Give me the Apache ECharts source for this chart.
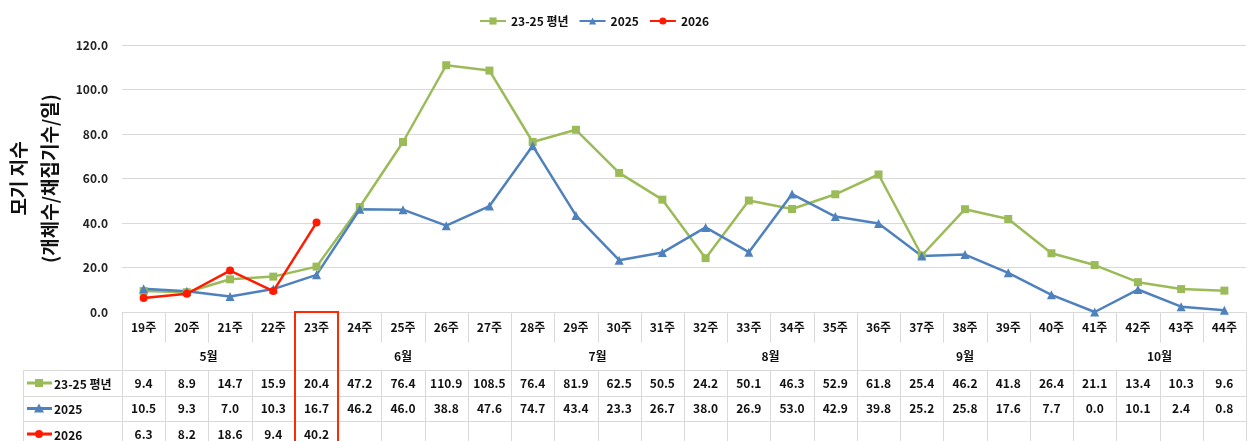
<!DOCTYPE html>
<html>
<head>
    <meta charset="utf-8">
    <title>모기 지수</title>
    <script src="https://cdn.jsdelivr.net/npm/echarts@6.0.0/dist/echarts.min.js"></script>
    <style>
        body { margin: 0; padding: 0; background: #fff; }
        #chart { width: 1251px; height: 441px; }
    </style>
</head>
<body>
    <div id="chart"></div>
    <script>
        // 데이터
        var weeks = ['19주', '20주', '21주', '22주', '23주', '24주', '25주', '26주', '27주', '28주', '29주', '30주', '31주',
            '32주', '33주', '34주', '35주', '36주', '37주', '38주', '39주', '40주', '41주', '42주', '43주', '44주'];
        var months = ['5월', '6월', '7월', '8월', '9월', '10월'];
        var monthSpans = [4, 5, 4, 4, 5, 4];
        var avg = [9.4, 8.9, 14.7, 15.9, 20.4, 47.2, 76.4, 110.9, 108.5, 76.4, 81.9, 62.5, 50.5,
            24.2, 50.1, 46.3, 52.9, 61.8, 25.4, 46.2, 41.8, 26.4, 21.1, 13.4, 10.3, 9.6];
        var y2025 = [10.5, 9.3, 7.0, 10.3, 16.7, 46.2, 46.0, 38.8, 47.6, 74.7, 43.4, 23.3, 26.7,
            38.0, 26.9, 53.0, 42.9, 39.8, 25.2, 25.8, 17.6, 7.7, 0.0, 10.1, 2.4, 0.8];
        var y2026 = [6.3, 8.2, 18.6, 9.4, 40.2];
        var currentWeek = 4; // 23주

        var seriesDefs = [
            { name: '23-25 평년', data: avg, color: '#9BBB59', symbol: 'rect' },
            { name: '2025', data: y2025, color: '#4F81BD', symbol: 'triangle' },
            { name: '2026', data: y2026, color: '#FF1A00', symbol: 'circle' }
        ];

        var FONT = '"Noto Sans CJK KR", "Noto Sans", sans-serif';

        // 표 배치
        var plotLeft = 122, plotRight = 5, tableLeft = 23;
        var colW = (1251 - plotLeft - plotRight) / weeks.length;
        var tableXMin = -0.5 - (plotLeft - tableLeft) / colW;
        var rowEdges = [0, 30, 58, 84, 109, 135];

        var cells = [];
        weeks.forEach(function (w, i) {
            cells.push({ x0: i - 0.5, x1: i + 0.5, r: 0, text: w, top: true });
        });
        var start = 0;
        months.forEach(function (m, k) {
            cells.push({ x0: start - 0.5, x1: start + monthSpans[k] - 0.5, r: 1, text: m, top: false });
            start += monthSpans[k];
        });
        seriesDefs.forEach(function (s, k) {
            var r = 2 + k;
            cells.push({ x0: tableXMin, x1: -0.5, r: r, header: s, top: true });
            weeks.forEach(function (w, i) {
                cells.push({ x0: i - 0.5, x1: i + 0.5, r: r, top: true,
                    text: i < s.data.length ? s.data[i].toFixed(1) : '' });
            });
        });
        cells.push({ x0: currentWeek - 0.5, x1: currentWeek + 0.5, r: 0, r1: 5, box: true });

        var cellData = cells.map(function (c) {
            return [c.x0, rowEdges[c.r], c.x1, rowEdges[c.r1 !== undefined ? c.r1 : c.r + 1]];
        });

        function px(v) { return Math.round(v) + 0.5; }

        function renderCell(params, api) {
            var c = cells[params.dataIndex];
            var p0 = api.coord([api.value(0), api.value(1)]);
            var p1 = api.coord([api.value(2), api.value(3)]);
            if (c.box) {
                return {
                    type: 'rect', z2: 10,
                    shape: { x: Math.round(p0[0]), y: Math.round(p0[1]), width: Math.round(p1[0] - p0[0]), height: Math.round(p1[1] - p0[1]) + 4 },
                    style: { fill: 'none', stroke: '#FF2A00', lineWidth: 2 }
                };
            }
            var ls = { stroke: '#D9D9D9', lineWidth: 1 };
            var x0 = px(p0[0]), x1 = px(p1[0]), yt = px(p0[1]), yb = px(p1[1]);
            var children = [
                { type: 'line', shape: { x1: x0, y1: yt, x2: x0, y2: yb }, style: ls },
                { type: 'line', shape: { x1: x1, y1: yt, x2: x1, y2: yb }, style: ls }
            ];
            if (c.top) children.push({ type: 'line', shape: { x1: x0, y1: yt, x2: x1, y2: yt }, style: ls });
            var cy = (p0[1] + p1[1]) / 2;
            if (c.header) {
                var s = c.header, sx = p0[0] + 16;
                children.push({ type: 'line', shape: { x1: p0[0] + 4, y1: cy, x2: p0[0] + 29, y2: cy }, style: { stroke: s.color, lineWidth: 3 } });
                var sym;
                if (s.symbol === 'rect') sym = { type: 'rect', shape: { x: sx - 4, y: cy - 4, width: 8, height: 8 }, style: { fill: s.color } };
                else if (s.symbol === 'triangle') sym = { type: 'polygon', shape: { points: [[sx, cy - 5], [sx + 5, cy + 4], [sx - 5, cy + 4]] }, style: { fill: s.color } };
                else sym = { type: 'circle', shape: { cx: sx, cy: cy, r: 4 }, style: { fill: s.color } };
                children.push(sym);
                children.push({ type: 'text', style: { text: s.name, x: p0[0] + 31, y: cy + 1, align: 'left', verticalAlign: 'middle',
                    font: 'bold 12px ' + FONT, fill: '#111' } });
            } else if (c.text) {
                children.push({ type: 'text', style: { text: c.text, x: (p0[0] + p1[0]) / 2, y: cy, align: 'center', verticalAlign: 'middle',
                    font: 'bold 12px ' + FONT, fill: '#111' } });
            }
            return { type: 'group', children: children };
        }

        var chart = echarts.init(document.getElementById('chart'));

        var lineSeries = seriesDefs.map(function (s) {
            return {
                name: s.name,
                type: 'line',
                data: s.data,
                xAxisIndex: 0,
                yAxisIndex: 0,
                symbol: s.symbol,
                symbolSize: s.symbol === 'rect' ? 8 : (s.symbol === 'triangle' ? 9 : 8),
                lineStyle: { color: s.color, width: 2.5 },
                itemStyle: { color: s.color },
                z: s.name === '2026' ? 5 : 3
            };
        });

        var option = {
            animation: false,
            textStyle: { fontFamily: FONT },
            legend: {
                data: seriesDefs.map(function (s) { return s.name; }),
                left: 474,
                top: 10,
                itemWidth: 26,
                itemHeight: 9,
                itemGap: 10,
                textStyle: { fontSize: 12, fontWeight: 'bold', color: '#111', fontFamily: FONT }
            },
            grid: [
                { left: plotLeft, right: plotRight, top: 45, bottom: 129, containLabel: false, outerBoundsMode: 'none' },
                { left: tableLeft, right: plotRight, top: 312, height: 135, containLabel: false, outerBoundsMode: 'none' }
            ],
            xAxis: [
                {
                    type: 'category', data: weeks, gridIndex: 0, boundaryGap: true,
                    axisLine: { show: false }, axisTick: { show: false }, axisLabel: { show: false }
                },
                {
                    type: 'value', gridIndex: 1, min: tableXMin, max: weeks.length - 0.5, show: false
                }
            ],
            yAxis: [
                {
                    type: 'value', gridIndex: 0, min: 0, max: 120, interval: 20,
                    name: '모기 지수\n(개체수/채집기수/일)',
                    nameLocation: 'middle', nameRotate: 90, nameGap: 56,
                    nameTextStyle: { fontSize: 19, fontWeight: 'bold', color: '#111', lineHeight: 31, fontFamily: FONT },
                    axisLine: { show: false }, axisTick: { show: false },
                    axisLabel: { formatter: function (v) { return v.toFixed(1); }, fontSize: 12, fontWeight: 'bold', color: '#222', margin: 14 },
                    splitLine: { lineStyle: { color: '#D9D9D9' } }
                },
                {
                    type: 'value', gridIndex: 1, min: 0, max: 135, inverse: true, show: false
                }
            ],
            series: lineSeries.concat([{
                type: 'custom',
                name: 'table',
                xAxisIndex: 1,
                yAxisIndex: 1,
                renderItem: renderCell,
                encode: { x: [0, 2], y: [1, 3] },
                data: cellData,
                silent: true,
                z: 1
            }])
        };

        chart.setOption(option);
    </script>
</body>
</html>
